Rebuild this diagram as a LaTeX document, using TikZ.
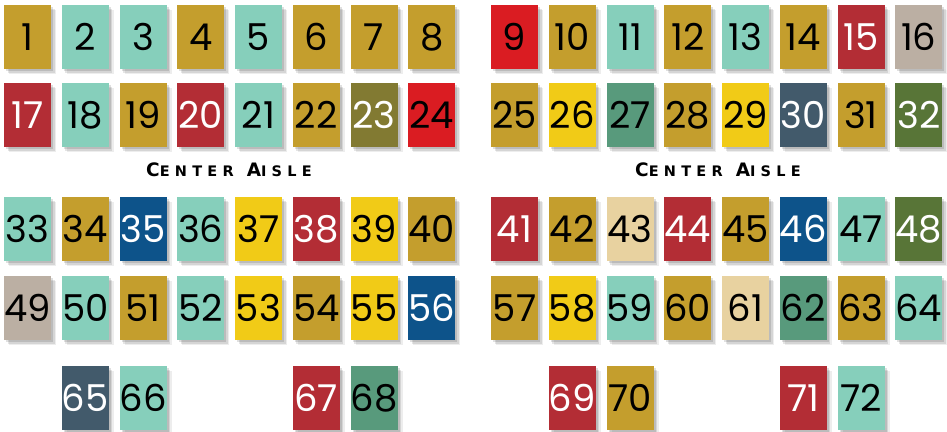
\documentclass[tikz,border=0pt]{standalone}
\usepackage{fontspec}
\usetikzlibrary{shadows,positioning}
\newfontfamily\seatfont{Poppins}
\newfontfamily\aislefont[LetterSpace=36]{DejaVu Sans}
\definecolor{SeatGold}{RGB}{196,158,45}
\definecolor{SeatTeal}{RGB}{134,207,187}
\definecolor{SeatRed}{RGB}{179,45,53}
\definecolor{SeatBright}{RGB}{218,28,34}
\definecolor{SeatOlive}{RGB}{130,122,50}
\definecolor{SeatYellow}{RGB}{241,203,23}
\definecolor{SeatGreen}{RGB}{88,154,124}
\definecolor{SeatSlate}{RGB}{66,90,107}
\definecolor{SeatMoss}{RGB}{88,117,55}
\definecolor{SeatTaupe}{RGB}{187,175,163}
\definecolor{SeatBlue}{RGB}{13,83,138}
\definecolor{SeatBeige}{RGB}{232,210,160}
\tikzset{
  seat/.style={rectangle,minimum width=47pt,minimum height=64pt,inner sep=0pt,
               font=\seatfont\fontsize{37}{37}\selectfont,
               general shadow={shadow xshift=2pt,shadow yshift=-2pt,fill=black,opacity=.12},
               general shadow={shadow xshift=3.5pt,shadow yshift=-3.5pt,fill=black,opacity=.10},
               general shadow={shadow xshift=5pt,shadow yshift=-5pt,fill=black,opacity=.07}},
  aisle/.style={font=\aislefont\bfseries\fontsize{18.5}{18.5}\selectfont},
}
\newcommand{\aislesc}[1]{{\fontsize{14.5}{14.5}\selectfont #1}}

\begin{document}
\begin{tikzpicture}[x=1pt,y=1pt]
  \useasboundingbox (0,0) rectangle (947,-431);
  % front rows, left section
  \foreach \n/\c/\t [count=\i from 0] in {1/SeatGold/black,2/SeatTeal/black,3/SeatTeal/black,4/SeatGold/black,
      5/SeatTeal/black,6/SeatGold/black,7/SeatGold/black,8/SeatGold/black}
    \node[seat,fill=\c,text=\t] (s\n) at (27.5+57.75*\i,-37) {\n};
  \foreach \n/\c/\t [count=\i from 0] in {17/SeatRed/white,18/SeatTeal/black,19/SeatGold/black,20/SeatRed/white,
      21/SeatTeal/black,22/SeatGold/black,23/SeatOlive/white,24/SeatBright/black}
    \node[seat,fill=\c,text=\t] (s\n) at (27.5+57.75*\i,-115) {\n};
  % front rows, right section
  \foreach \n/\c/\t [count=\i from 0] in {9/SeatBright/black,10/SeatGold/black,11/SeatTeal/black,12/SeatGold/black,
      13/SeatTeal/black,14/SeatGold/black,15/SeatRed/white,16/SeatTaupe/black}
    \node[seat,fill=\c,text=\t] (s\n) at (514.5+57.75*\i,-37) {\n};
  \foreach \n/\c/\t [count=\i from 0] in {25/SeatGold/black,26/SeatYellow/black,27/SeatGreen/black,28/SeatGold/black,
      29/SeatYellow/black,30/SeatSlate/white,31/SeatGold/black,32/SeatMoss/white}
    \node[seat,fill=\c,text=\t] (s\n) at (514.5+57.75*\i,-115) {\n};

  \node[aisle] (aisleL) at (229,-170) {C\aislesc{ENTER} A\aislesc{ISLE}};
  \node[aisle] (aisleR) at (718,-170) {C\aislesc{ENTER} A\aislesc{ISLE}};

  % back rows, left section
  \foreach \n/\c/\t [count=\i from 0] in {33/SeatTeal/black,34/SeatGold/black,35/SeatBlue/white,36/SeatTeal/black,
      37/SeatYellow/black,38/SeatRed/white,39/SeatYellow/black,40/SeatGold/black}
    \node[seat,fill=\c,text=\t] (s\n) at (27.5+57.75*\i,-229) {\n};
  \foreach \n/\c/\t [count=\i from 0] in {49/SeatTaupe/black,50/SeatTeal/black,51/SeatGold/black,52/SeatTeal/black,
      53/SeatYellow/black,54/SeatGold/black,55/SeatYellow/black,56/SeatBlue/white}
    \node[seat,fill=\c,text=\t] (s\n) at (27.5+57.75*\i,-308) {\n};
  % back rows, right section
  \foreach \n/\c/\t [count=\i from 0] in {41/SeatRed/white,42/SeatGold/black,43/SeatBeige/black,44/SeatRed/white,
      45/SeatGold/black,46/SeatBlue/white,47/SeatTeal/black,48/SeatMoss/white}
    \node[seat,fill=\c,text=\t] (s\n) at (514.5+57.75*\i,-229) {\n};
  \foreach \n/\c/\t [count=\i from 0] in {57/SeatGold/black,58/SeatYellow/black,59/SeatTeal/black,60/SeatGold/black,
      61/SeatBeige/black,62/SeatGreen/black,63/SeatGold/black,64/SeatTeal/black}
    \node[seat,fill=\c,text=\t] (s\n) at (514.5+57.75*\i,-308) {\n};

  % last row pairs
  \node[seat,fill=SeatSlate,text=white] (s65) at (85.25,-398) {65};
  \node[seat,fill=SeatTeal] (s66) at (143,-398) {66};
  \node[seat,fill=SeatRed,text=white] (s67) at (316.25,-398) {67};
  \node[seat,fill=SeatGreen] (s68) at (374,-398) {68};
  \node[seat,fill=SeatRed,text=white] (s69) at (572.25,-398) {69};
  \node[seat,fill=SeatGold] (s70) at (630,-398) {70};
  \node[seat,fill=SeatRed,text=white] (s71) at (803.25,-398) {71};
  \node[seat,fill=SeatTeal] (s72) at (861,-398) {72};
\end{tikzpicture}
\end{document}
